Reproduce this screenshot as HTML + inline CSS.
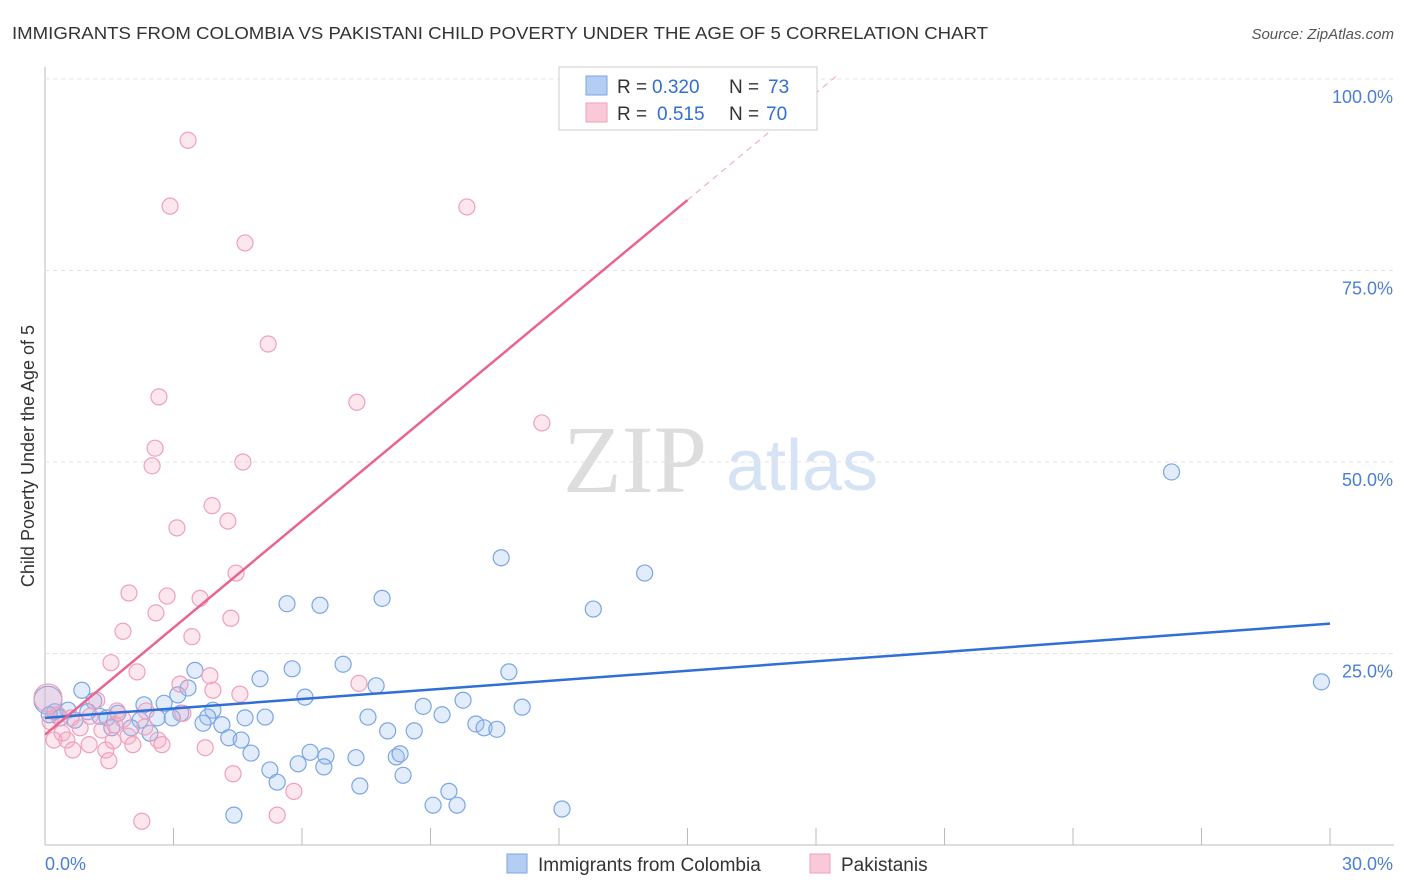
<!DOCTYPE html>
<html><head><meta charset="utf-8"><style>
body{margin:0;background:#fff;font-family:"Liberation Sans",sans-serif;}
#wrap{position:relative;width:1406px;height:892px;overflow:hidden;}
</style></head><body>
<div id="wrap">
<svg id="svg" width="1406" height="892" xmlns="http://www.w3.org/2000/svg">
<text x="12" y="39" font-size="17.5" fill="#333" textLength="976" lengthAdjust="spacingAndGlyphs">IMMIGRANTS FROM COLOMBIA VS PAKISTANI CHILD POVERTY UNDER THE AGE OF 5 CORRELATION CHART</text>
<text x="1394" y="39" font-size="15" fill="#555" font-style="italic" text-anchor="end">Source: ZipAtlas.com</text>
<text x="635" y="492" font-size="96" fill="#ddd" font-family="Liberation Serif,serif" text-anchor="middle">ZIP</text>
<text x="802" y="490" font-size="72" fill="#d6e3f5" text-anchor="middle">atlas</text>
<g id="grid"></g><g id="marks"></g>
<text transform="translate(34,456) rotate(-90)" font-size="18" fill="#333" text-anchor="middle">Child Poverty Under the Age of 5</text>
<g>
<rect x="559" y="67" width="258" height="63" fill="#fff" stroke="#ccc"/>
<rect x="586" y="76" width="21" height="19" fill="#b3cdf3" stroke="#7aa6e6"/>
<rect x="586" y="103" width="21" height="19" fill="#f9c9d8" stroke="#f0a0bb"/>
<g font-size="19" fill="#333">
<text x="617" y="93">R =</text><text x="652" y="93" fill="#2f6fd6">0.320</text><text x="729" y="93">N =</text><text x="768" y="93" fill="#2f6fd6">73</text>
<text x="617" y="120">R =</text><text x="657" y="120" fill="#2f6fd6">0.515</text><text x="729" y="120">N =</text><text x="766" y="120" fill="#2f6fd6">70</text>
</g>
</g>
<g>
<rect x="507" y="854" width="20" height="19" fill="#b3cdf3" stroke="#7aa6e6"/>
<text x="538" y="871" font-size="19" fill="#333">Immigrants from Colombia</text>
<rect x="810" y="854" width="20" height="19" fill="#f9c9d8" stroke="#f0a0bb"/>
<text x="841" y="871" font-size="19" fill="#333">Pakistanis</text>
</g>
</svg></div>
<script>
const yTicks=[25,50,75,100];
const yTickLabels=["25.0%","50.0%","75.0%","100.0%"];
const xTicks=[0,3,6,9,12,15,18,21,24,27,30];
const blueX=[26.3,29.8,10.65,14.0,12.8,7.87,6.42,5.65,6.96,5.77,10.83,7.73,6.07,9.76,11.14,8.83,9.27,7.54,10.06,10.25,10.55,8.0,8.62,5.02,3.5,3.1,3.34,2.78,2.31,3.92,3.17,3.8,4.67,5.14,3.69,4.13,2.62,2.97,2.22,2.01,2.45,4.29,4.58,4.81,5.25,5.42,5.91,6.19,6.56,6.51,7.26,7.35,8.2,8.29,8.36,9.43,9.06,9.62,12.07,4.41,0.86,1.14,0.54,0.23,0.35,0.7,1.28,1.45,1.7,1.56,0.07,0.1,1.0];
const blueY=[48.7,21.3,37.5,35.5,30.8,32.2,31.3,31.5,23.6,23.0,22.6,20.8,19.3,18.9,18.0,18.1,17.0,16.7,15.8,15.3,15.1,14.9,14.9,21.7,22.8,19.6,20.5,18.5,18.3,17.6,17.2,16.7,16.6,16.7,15.9,15.7,16.6,16.6,16.3,15.3,14.6,14.0,13.7,12.0,9.8,8.2,10.6,12.1,11.6,10.2,11.4,7.7,11.5,11.9,9.1,7.0,5.2,5.2,4.7,3.9,20.2,18.8,17.6,17.4,16.6,16.3,16.8,16.6,17.2,15.3,18.9,17.0,17.4];
const pinkX=[3.34,2.92,9.85,4.67,5.21,2.66,7.28,11.6,2.57,2.5,4.62,3.9,4.27,3.08,4.46,1.96,2.85,3.62,2.59,4.34,1.82,3.43,1.54,2.15,7.33,3.85,3.15,3.92,4.55,1.21,2.36,1.68,1.82,3.22,1.05,0.61,0.3,0.82,0.4,0.21,0.51,1.33,1.63,1.94,2.33,2.64,2.73,1.03,0.65,1.42,1.59,2.05,3.74,1.49,4.39,5.81,5.42,2.26,0.07,0.12];
const pinkY=[92.0,83.4,83.3,78.6,65.4,58.5,57.8,55.1,51.8,49.5,50.0,44.3,42.3,41.4,35.5,32.9,32.5,32.2,30.3,29.6,27.9,27.2,23.8,22.6,21.1,22.1,21.0,20.2,19.7,18.9,17.5,17.5,16.4,17.2,16.8,16.6,17.0,15.3,14.6,13.7,13.7,15.0,15.7,14.2,15.4,13.7,13.1,13.1,12.4,12.4,13.6,13.1,12.7,11.0,9.3,7.0,3.9,3.1,19.2,16.1];
const blueLine=[16.6,28.9];
const pinkLine=[14.4,84.2,100.5];
const X0=45,X1=1330,Y0=845,YTOP=79;
const sx=v=>X0+(X1-X0)*v/30, sy=v=>Y0-(Y0-YTOP)*v/100;
const NS="http://www.w3.org/2000/svg";
const grid=document.getElementById('grid'),marks=document.getElementById('marks');
function mk(tag,at,par){const e=document.createElementNS(NS,tag);for(const k in at)e.setAttribute(k,at[k]);par.appendChild(e);return e;}
let ax=mk('line',{x1:X0,x2:1394,y1:Y0,y2:Y0,stroke:'#bbb'},grid);


let ay=mk('line',{x1:X0,x2:X0,y1:67,y2:Y0,stroke:'#bbb'},grid);


yTicks.forEach((t,i)=>{
 let g=mk('line',{x1:X0,x2:1394,y1:sy(t),y2:sy(t),stroke:'#e3e3e3','stroke-dasharray':'4,4'},grid);
 
 
 let l=mk('text',{x:1393,y:sy(t)+24,'font-size':18,fill:'#4a7fd6','text-anchor':'end'},grid);l.textContent=yTickLabels[i];
 
 
});
xTicks.forEach(t=>{
 let k=mk('line',{x1:sx(t),x2:sx(t),y1:828,y2:Y0,stroke:'#bbb'},grid);
 
 
});
let xl0=mk('text',{x:45,y:870,'font-size':18,fill:'#4a7fd6'},grid);xl0.textContent='0.0%';


let xl1=mk('text',{x:1393,y:870,'font-size':18,fill:'#4a7fd6','text-anchor':'end'},grid);xl1.textContent='30.0%';


blueX.forEach((x,i)=>{
 let c=mk('circle',{cx:sx(x),cy:sy(blueY[i]),r:(x<0.2&&blueY[i]>18.5)?14:8,fill:'rgba(160,192,240,0.3)',stroke:'#7aa6e6','stroke-width':1.2},marks);
 
 
});
pinkX.forEach((x,i)=>{
 let c=mk('circle',{cx:sx(x),cy:sy(pinkY[i]),r:(x<0.2&&pinkY[i]>18.5)?14:8,fill:'rgba(245,170,195,0.28)',stroke:'#f0a0bb','stroke-width':1.2},marks);
 
 
});
let bl=mk('line',{x1:sx(0),y1:sy(blueLine[0]),x2:sx(30),y2:sy(blueLine[1]),stroke:'#2f6fd6','stroke-width':2.5},marks);


let pl=mk('line',{x1:sx(0),y1:sy(pinkLine[0]),x2:sx(15),y2:sy(pinkLine[1]),stroke:'#e8658f','stroke-width':2.5},marks);


const slope=(pinkLine[1]-pinkLine[0])/15, xe=(pinkLine[2]-pinkLine[0])/slope;
let pd=mk('line',{x1:sx(15),y1:sy(pinkLine[1]),x2:sx(xe),y2:sy(pinkLine[2]),stroke:'#f0b0c4','stroke-width':1.2,'stroke-dasharray':'6,5'},marks);


</script>
</body></html>
